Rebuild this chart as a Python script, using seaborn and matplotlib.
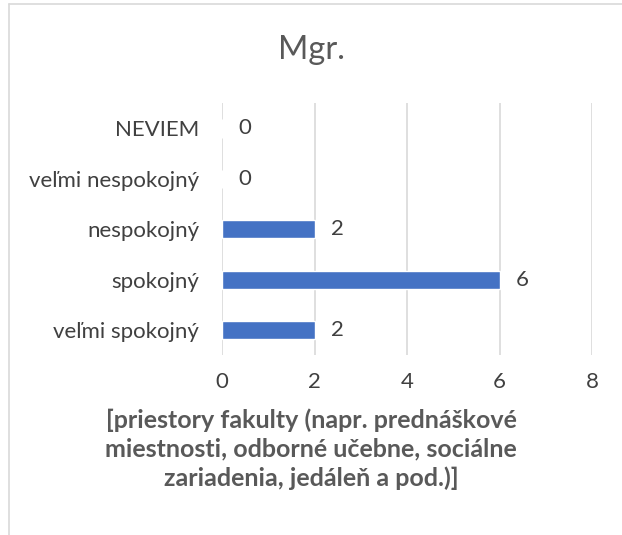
import pandas as pd
import matplotlib
matplotlib.use('Agg')
import matplotlib.pyplot as plt
import seaborn as sns

# data
categories = ['NEVIEM', 'veľmi nespokojný', 'nespokojný', 'spokojný', 'veľmi spokojný']
counts = [0, 0, 2, 6, 2]
x_ticks = [0, 2, 4, 6, 8]

title = 'Mgr.'
x_title = ('[priestory fakulty (napr. prednáškové\n'
           'miestnosti, odborné učebne, sociálne\n'
           'zariadenia, jedáleň a pod.)]')

sns.set_theme(style='white')
plt.rcParams['font.family'] = ['Lato', 'DejaVu Sans']

df = pd.DataFrame({'kategoria': categories, 'pocet': counts})

fig = plt.figure(figsize=(6.22, 5.35), dpi=100)
ax = fig.add_axes([0.357, 0.336, 0.595, 0.471])

sns.barplot(data=df, x='pocet', y='kategoria', color='#4472C4',
            width=0.36, saturation=1, ax=ax, order=categories)

ax.set_xlim(0, 8)
ax.set_xticks(x_ticks)
ax.xaxis.grid(True, color='#D9D9D9', linewidth=1.2)
ax.set_axisbelow(True)
for s in ax.spines.values():
    s.set_visible(False)
ax.tick_params(axis='both', length=0, labelsize=16, colors='#404040')
ax.tick_params(axis='y', pad=16.5)
ax.tick_params(axis='x', pad=12)
ax.set_ylabel('')
ax.set_xlabel('')

for i, v in enumerate(counts):
    ax.annotate(str(v), xy=(v, i), xytext=(11.5, 0), textcoords='offset points',
                ha='left', va='center', fontsize=16, color='#404040')

fig.text(0.5, 0.907, title, ha='center', va='center', fontsize=23.5, color='#595959')
fig.text(0.5, 0.161, x_title, ha='center', va='center', fontsize=18,
         fontweight='bold', color='#595959', linespacing=1.3)

# chart area border (top and left visible)
fig.add_artist(plt.Line2D([9 / 622, 9 / 622], [0, 1 - 4 / 535], transform=fig.transFigure,
                          color='#D9D9D9', linewidth=1.2))
fig.add_artist(plt.Line2D([9 / 622, 1], [1 - 4 / 535, 1 - 4 / 535], transform=fig.transFigure,
                          color='#D9D9D9', linewidth=1.2))

fig.savefig('out.png', dpi=100)
